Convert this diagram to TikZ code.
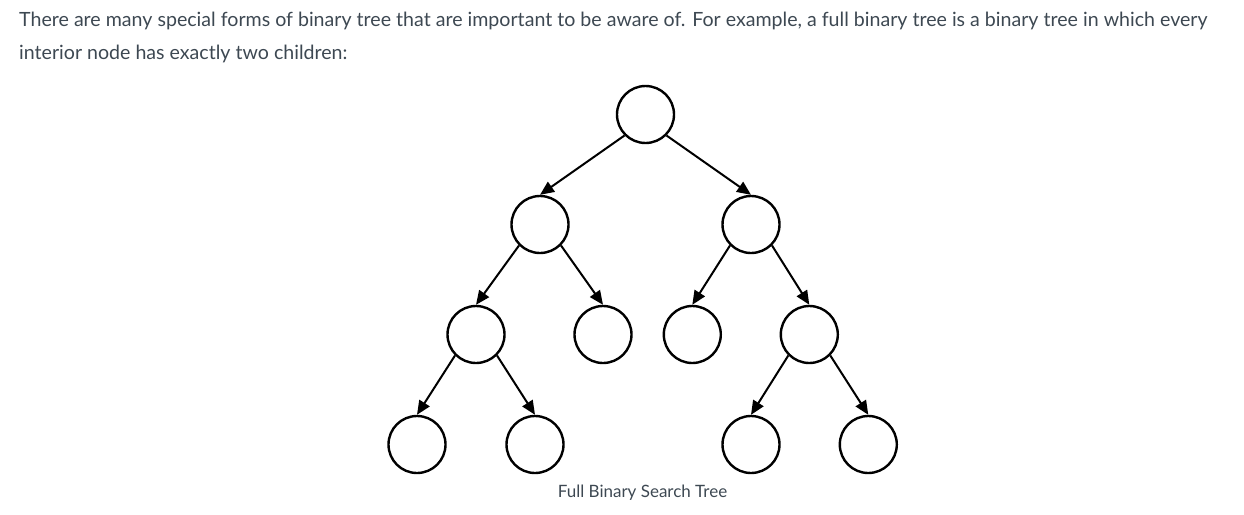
\documentclass[tikz,border=0pt]{standalone}
\usepackage{fontspec}
\setmainfont{Lato}
\usetikzlibrary{arrows.meta}
\definecolor{textgray}{RGB}{61,72,82}

\begin{document}
\begin{tikzpicture}[x=1pt, y=1pt, node distance=110pt,
  vertex/.style={draw, circle, line width=2.4pt, minimum size=57pt, inner sep=0pt},
  edge/.style={-{Triangle[length=14pt, width=12pt]}, line width=2pt},
  para/.style={anchor=base west, inner sep=0pt, text=textgray, font=\fontsize{19.6}{22}\selectfont}]

  \useasboundingbox (0,0) rectangle (1244,-514);

  % Text
  \node[para] (T1) at (19,-27) {There are many special forms of binary tree that are important to be aware of. For example, a full binary tree is a binary tree in which every};
  \node[para] (T2) at (19,-59) {interior node has exactly two children:};

  % First row
  \node[vertex] (A1) at (645.5,-114.5) {};

  % Second row
  \node[vertex, below of=A1, xshift=-105.5pt] (B1) {};
  \node[vertex, below of=A1, xshift=105.5pt] (B2) {};

  % Third row
  \node[vertex, below of=B1, xshift=-64pt] (C1) {};
  \node[vertex, below of=B1, xshift=63pt] (C2) {};
  \node[vertex, below of=B2, xshift=-58.7pt] (C3) {};
  \node[vertex, below of=B2, xshift=58.3pt] (C4) {};

  % Fourth row
  \node[vertex, below of=C1, xshift=-59pt] (D1) {};
  \node[vertex, below of=C1, xshift=59pt] (D2) {};
  \node[vertex, below of=C4, xshift=-58.3pt] (D3) {};
  \node[vertex, below of=C4, xshift=59pt] (D4) {};

  % Edges
  \draw[edge] (A1.south west) -- (B1.north);
  \draw[edge] (A1.south east) -- (B2.north);
  \draw[edge] (B1.south west) -- (C1.north);
  \draw[edge] (B1.south east) -- (C2.north);
  \draw[edge] (B2.south west) -- (C3.north);
  \draw[edge] (B2.south east) -- (C4.north);
  \draw[edge] (C1.south west) -- (D1.north);
  \draw[edge] (C1.south east) -- (D2.north);
  \draw[edge] (C4.south west) -- (D3.north);
  \draw[edge] (C4.south east) -- (D4.north);

  % Caption
  \node[anchor=base, inner sep=0pt, text=textgray, font=\fontsize{17}{20}\selectfont] (cap) at (642.5,-497) {Full Binary Search Tree};

\end{tikzpicture}
\end{document}
